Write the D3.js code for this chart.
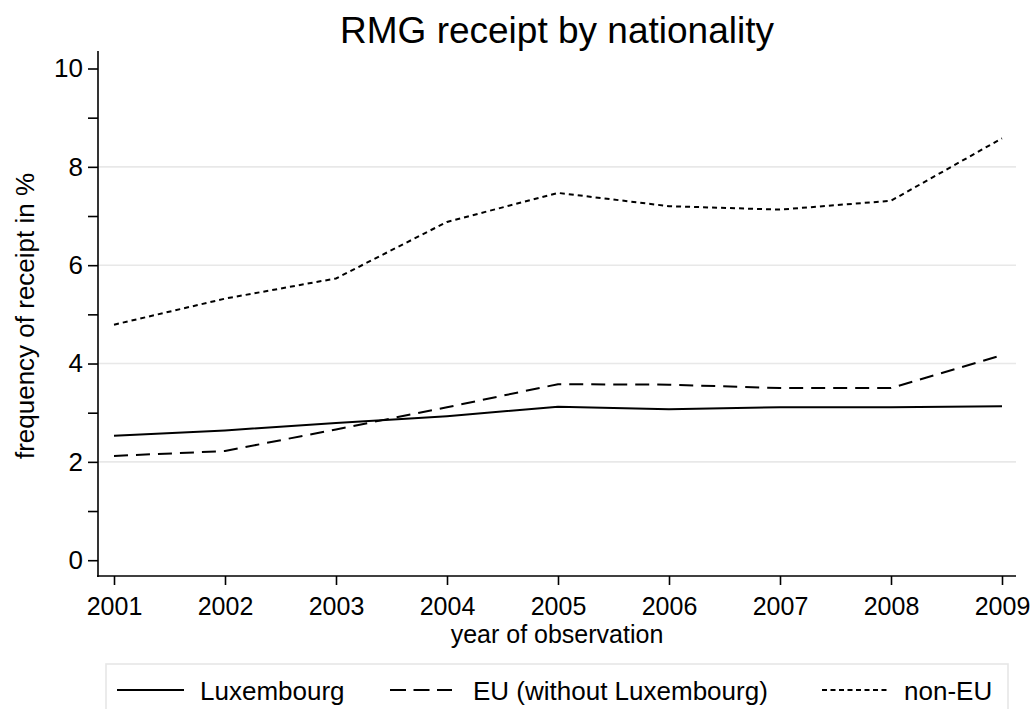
<!DOCTYPE html>
<html><head><meta charset="utf-8">
<script src="https://cdn.jsdelivr.net/npm/d3@7"></script>
<style>body{margin:0;background:#fff}svg{display:block;font-family:"Liberation Sans",Arial,sans-serif}</style>
</head><body>
<script>
const years = [2001,2002,2003,2004,2005,2006,2007,2008,2009];
const luxembourg = [2.53,2.64,2.79,2.93,3.12,3.07,3.11,3.11,3.13];
const euNoLux = [2.12,2.22,2.66,3.11,3.58,3.57,3.50,3.50,4.17];
const nonEU = [4.79,5.32,5.73,6.88,7.47,7.20,7.13,7.31,8.58];
const yMajor = [0,2,4,6,8,10];
const yMinor = [1,3,5,7,9];
const gridVals = [2,4,6,8];
const seriesNames = ["Luxembourg","EU (without Luxembourg)","non-EU"];
const dashes = [null,"14,8","5,4"];

(function(){
const W=1035,H=709;
const FONT="Liberation Sans, Arial, sans-serif";
const svg=d3.select("body").append("svg").attr("width",W).attr("height",H);
const x=d3.scaleLinear().domain([2001,2009]).range([114,1002]);
const y=d3.scaleLinear().domain([0,10]).range([560.2,68.5]);
const axisX=98, axisY=576, rightEdge=1016, topEdge=51;

svg.append("g").selectAll("line").data(gridVals).join("line")
 .attr("x1",axisX).attr("x2",rightEdge).attr("y1",d=>y(d)).attr("y2",d=>y(d))
 .attr("stroke","#e8e8e8").attr("stroke-width",1.6);

const ya=svg.append("g").attr("transform",`translate(${axisX},0)`);
ya.call(d3.axisLeft(y).tickValues(yMajor).tickSize(10).tickSizeOuter(0).tickFormat(d3.format("d")));
ya.append("g").call(d3.axisLeft(y).tickValues(yMinor).tickSize(10).tickFormat(""));
ya.selectAll(".domain").remove();
ya.append("line").attr("x1",0).attr("x2",0).attr("y1",topEdge).attr("y2",axisY+1).attr("stroke","#000").attr("stroke-width",1.6);
ya.selectAll(".tick line").attr("stroke","#000").attr("stroke-width",1.6);
ya.selectAll(".tick text").attr("x",-15).attr("fill","#000")
  .style("font-size","26px").style("font-family",FONT);

const xa=svg.append("g").attr("transform",`translate(0,${axisY})`);
xa.call(d3.axisBottom(x).tickValues(years).tickSize(9).tickFormat(d3.format("d")));
xa.selectAll(".domain").remove();
xa.append("line").attr("x1",axisX-1).attr("x2",rightEdge).attr("y1",0).attr("y2",0).attr("stroke","#000").attr("stroke-width",1.6);
xa.selectAll(".tick line").attr("stroke","#000").attr("stroke-width",1.6);
xa.selectAll(".tick text").attr("y",21).attr("dy","0.71em").attr("fill","#000")
  .style("font-size","25px").style("font-family",FONT);

const all=[luxembourg,euNoLux,nonEU];
const line=d3.line().x((d,i)=>x(years[i])).y(d=>y(d));
svg.append("g").selectAll("path").data(all).join("path")
 .attr("d",line).attr("fill","none").attr("stroke","#000").attr("stroke-width",2)
 .attr("stroke-dasharray",(d,i)=>dashes[i]);

svg.append("text").attr("x",557).attr("y",43).attr("text-anchor","middle").style("font-size","37px").text("RMG receipt by nationality");
svg.append("text").attr("x",557).attr("y",643).attr("text-anchor","middle").style("font-size","25px").text("year of observation");
svg.append("text").attr("transform","translate(34,316) rotate(-90)").attr("text-anchor","middle").style("font-size","26px").text("frequency of receipt in %");

svg.append("rect").attr("x",106).attr("y",664).attr("width",902).attr("height",60).attr("fill","#fff").attr("stroke","#e6e6e6").attr("stroke-width",1.6);
const leg=[{x1:117,x2:184,tx:200},{x1:390,x2:452,tx:473},{x1:822,x2:890,tx:904}];
leg.forEach((l,i)=>{
  svg.append("line").attr("x1",l.x1).attr("x2",l.x2).attr("y1",690).attr("y2",690).attr("stroke","#000").attr("stroke-width",2).attr("stroke-dasharray",i===2?"5,3.5":(i===1?"16,7.5":null));
  svg.append("text").attr("x",l.tx).attr("y",700).style("font-size","26px").text(seriesNames[i]);
});
})();
</script>
</body></html>
